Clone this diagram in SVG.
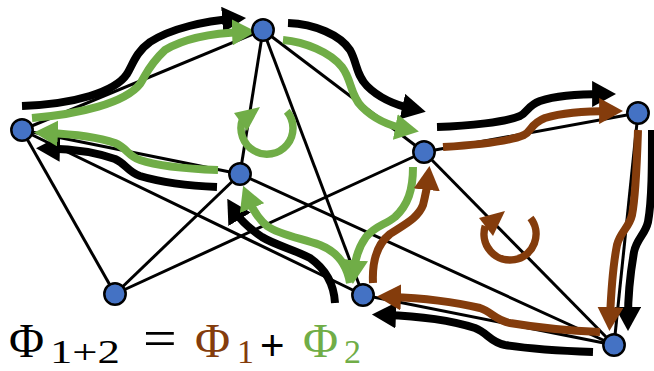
<svg xmlns="http://www.w3.org/2000/svg" width="654" height="371" viewBox="0 0 654 371">
<style>
.edge{stroke:#000;stroke-width:3;fill:none}
.flow{fill:none;stroke-width:8}
.k{stroke:#000}
.g{stroke:#70AD47}
.b{stroke:#843C0C}
.loop{fill:none;stroke-width:7.5}
.node{fill:#4472C4;stroke:#000;stroke-width:2.5}
.t{font-family:"Liberation Serif","Times New Roman",serif}
.s{font-family:"Liberation Sans",Arial,sans-serif}
</style>
<defs>
<marker id="hk" viewBox="0 0 22 24" markerUnits="strokeWidth" markerWidth="3" markerHeight="3.27" refX="10" refY="12" orient="auto"><path d="M0,0 L22,12 L0,24 z" fill="#000"/></marker>
<marker id="hg" viewBox="0 0 22 24" markerUnits="strokeWidth" markerWidth="3" markerHeight="3.27" refX="10" refY="12" orient="auto"><path d="M0,0 L22,12 L0,24 z" fill="#70AD47"/></marker>
<marker id="hb" viewBox="0 0 22 24" markerUnits="strokeWidth" markerWidth="3" markerHeight="3.27" refX="10" refY="12" orient="auto"><path d="M0,0 L22,12 L0,24 z" fill="#843C0C"/></marker>
</defs>
<g id="connectors">
<g id="edges">
<line class="edge" x1="22" y1="130" x2="263" y2="30"/>
<line class="edge" x1="22" y1="130" x2="240" y2="174"/>
<line class="edge" x1="22" y1="130" x2="115" y2="294"/>
<line class="edge" x1="22" y1="130" x2="363" y2="295"/>
<line class="edge" x1="263" y1="30" x2="240" y2="174"/>
<line class="edge" x1="263" y1="30" x2="363" y2="295"/>
<line class="edge" x1="263" y1="30" x2="424" y2="152"/>
<line class="edge" x1="240" y1="174" x2="115" y2="294"/>
<line class="edge" x1="240" y1="174" x2="614" y2="345"/>
<line class="edge" x1="115" y1="294" x2="424" y2="152"/>
<line class="edge" x1="424" y1="152" x2="638" y2="113"/>
<line class="edge" x1="424" y1="152" x2="614" y2="345"/>
<line class="edge" x1="638" y1="113" x2="614" y2="345"/>
<line class="edge" x1="363" y1="295" x2="614" y2="345"/>
</g>
<g id="flow-total">
<path class="flow k" marker-end="url(#hk)" d="M22,106 C75,104 115,92 127,74 C133,64 136,52 150,42 C172,28 205,21 233,19"/>
<path class="flow k" marker-end="url(#hk)" d="M288,23 C315,24 340,35 350,50 C357,62 356,75 367,86 C380,99 395,105 413,109"/>
<path class="flow k" marker-end="url(#hk)" d="M437,127 C470,126 505,122 520,116 C528,112 527,106 540,101 C558,95 580,94 603,94"/>
<path class="flow k" marker-end="url(#hk)" d="M652,130 C652,165 652,200 648,222 C645,235 637,238 634,252 C630,275 628,300 628,318"/>
<path class="flow k" marker-end="url(#hk)" d="M593,352 C565,351 530,349 505,345 C490,342 488,333 475,328 C450,320 415,316 385,315"/>
<path class="flow k" marker-end="url(#hk)" d="M335,303 C334,285 327,270 310,258 C295,250 275,245 262,237 C250,229 240,220 234,210"/>
<path class="flow k" marker-end="url(#hk)" d="M217,187 C190,186 160,182 140,176 C128,172 126,164 115,159 C95,152 70,149 49,148.5"/>
</g>
<g id="flow-2">
<path class="flow g" marker-end="url(#hg)" d="M32,118 C80,114 125,103 140,84 C146,75 148,66 165,50 C185,38 215,33 243,32"/>
<path class="flow g" marker-end="url(#hg)" d="M283,40 C305,42 330,52 342,67 C352,80 350,95 362,107 C375,120 390,126 406,129"/>
<path class="flow g" marker-end="url(#hg)" d="M413,167 C413,190 408,205 395,217 C385,225 375,226 366,237 C358,248 355,260 354,271"/>
<path class="flow g" marker-end="url(#hg)" d="M350,283 C347,265 338,252 320,245 C300,238 280,235 267,226 C257,218 252,208 248,198"/>
<path class="flow g" marker-end="url(#hg)" d="M218,170 C190,169 160,167 140,160 C128,156 127,148 115,143 C95,136 70,134 47,133"/>
<path class="loop g" d="M286.8,111.3 A26,26 0 1 1 242.6,119.1"/>
<polygon fill="#70AD47" points="234,113 260,107 247,131"/>
</g>
<g id="flow-1">
<path class="flow b" marker-end="url(#hb)" d="M443,147 C475,145 510,141 524,135 C532,131 530,124 545,118 C565,112 590,111 610,111"/>
<path class="flow b" marker-end="url(#hb)" d="M638,130 C637,160 636,195 632,215 C629,228 620,232 617,245 C612,270 611,295 610,318"/>
<path class="flow b" marker-end="url(#hb)" d="M600,332 C575,331 540,328 510,323 C495,320 492,312 480,308 C455,302 420,298 390,297"/>
<path class="flow b" marker-end="url(#hb)" d="M373,283 C372,262 376,245 390,234 C405,224 418,218 423,205 C425,197 427,188 428,179"/>
<path class="loop b" d="M530.5,218 A26,26 0 1 1 485.3,226"/>
<polygon fill="#843C0C" points="479,218 505,211 493,236"/>
</g>
</g>
<g id="nodes">
<g id="nA"><circle class="node" cx="22" cy="130" r="10.7"/></g>
<g id="nB"><circle class="node" cx="263" cy="30" r="10.7"/></g>
<g id="nC"><circle class="node" cx="240" cy="174" r="10.7"/></g>
<g id="nD"><circle class="node" cx="424" cy="152" r="10.7"/></g>
<g id="nE"><circle class="node" cx="638" cy="113" r="10.7"/></g>
<g id="nF"><circle class="node" cx="115" cy="294" r="10.7"/></g>
<g id="nG"><circle class="node" cx="363" cy="295" r="10.7"/></g>
<g id="nH"><circle class="node" cx="614" cy="345" r="10.7"/></g>
</g>
<g id="label">
<text class="t" x="9" y="357" font-size="48" fill="#000">Φ</text>
<text class="t" x="50" y="363" font-size="34" fill="#000" textLength="70" lengthAdjust="spacingAndGlyphs">1+2</text>
<text class="t" x="0" y="0" font-size="46" fill="#000" transform="translate(143,356) scale(1.3,1.15)">=</text>
<text class="t" x="195" y="357" font-size="48" fill="#843C0C">Φ</text>
<text class="t" x="237" y="363" font-size="34" fill="#843C0C">1</text>
<text class="s" x="260" y="360" font-size="42" fill="#000">+</text>
<text class="t" x="303" y="357" font-size="48" fill="#70AD47">Φ</text>
<text class="t" x="344" y="363" font-size="34" fill="#70AD47">2</text>
</g>
</svg>
